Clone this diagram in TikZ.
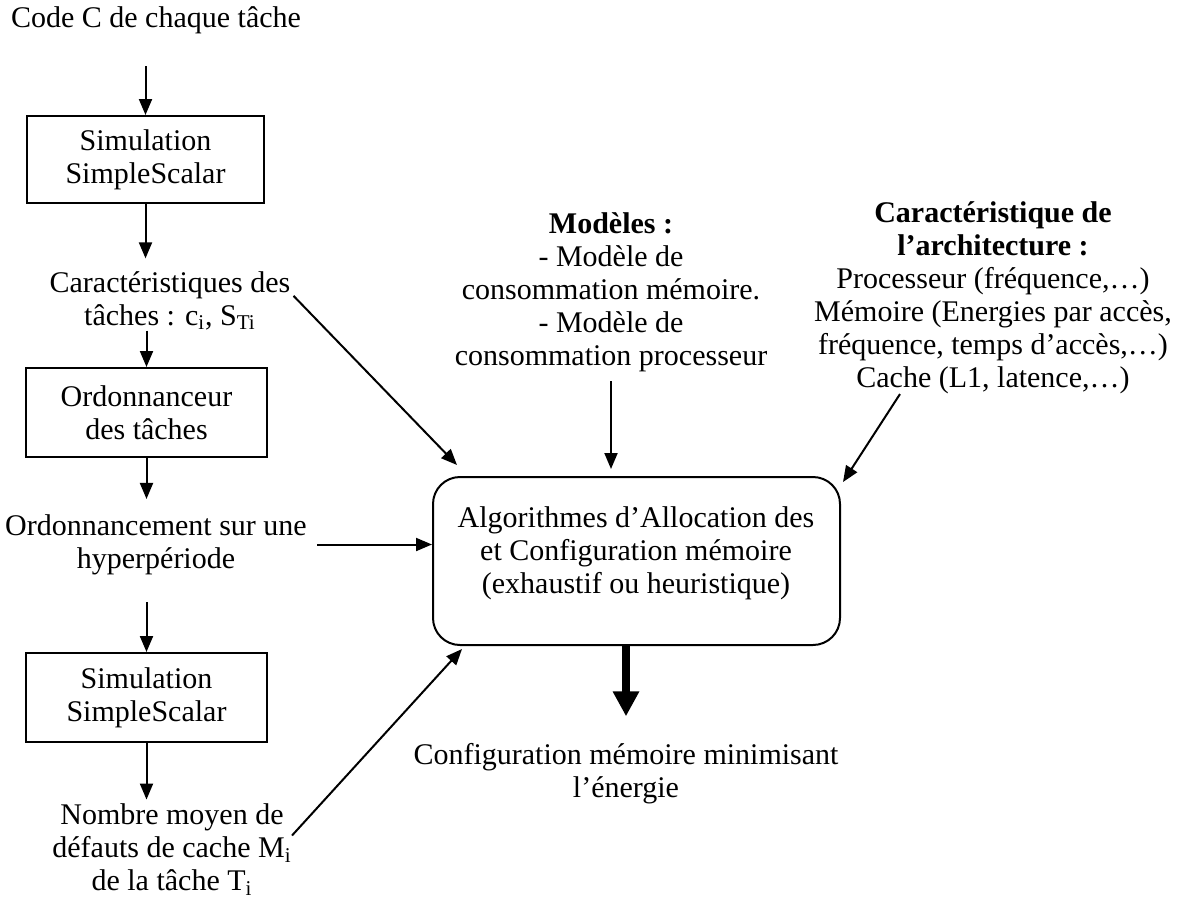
\documentclass[tikz,border=0pt]{standalone}
\usepackage{fontspec}
\setmainfont{Liberation Serif}
\usepackage{tikz}
\usetikzlibrary{shapes, arrows.meta, positioning}

\begin{document}
\begin{tikzpicture}[x=0.5pt, y=-0.5pt, >={Triangle[length=8pt,width=6.5pt]},
  every node/.style={font=\fontsize{15pt}{16.5pt}\selectfont, align=center},
  txt/.style={inner sep=0pt},
  stepbox/.style={rectangle, draw, line width=1pt, minimum width=120.5pt, minimum height=44.5pt},
  algobox/.style={rectangle, draw, line width=1pt, rounded corners=13.5pt, minimum width=203.5pt, minimum height=84pt},
  arr/.style={->, line width=1pt},
  bigarr/.style={-{Triangle[length=12.5pt,width=12.5pt]}, line width=4pt}]

\useasboundingbox (0,0) rectangle (1187,900);

% Left column
\node[txt] at (156,20) (code) {Code C de chaque tâche};
\node[stepbox, minimum width=118.5pt, minimum height=43.5pt] at (145.5,159.5) (sim1) {Simulation\\SimpleScalar};
\node[txt] at (170,301) (carac) {Caractéristiques des\\tâches : c\textsubscript{i}, S\textsubscript{Ti}};
\node[stepbox] at (146.5,412.5) (ordo) {Ordonnanceur\\des tâches};
\node[txt] at (156,544.5) (ordon) {Ordonnancement sur une\\hyperpériode};
\node[stepbox] at (146.5,697.5) (sim2) {Simulation\\SimpleScalar};
\node[txt] at (172,849.5) (nombre) {Nombre moyen de\\défauts de cache M\textsubscript{i}\\de la tâche T\textsubscript{i}};

% Models and architecture
\node[txt] at (611,292) (modeles) {\textbf{Modèles :}\\- Modèle de\\consommation mémoire.\\- Modèle de\\consommation processeur};
\node[txt] at (993,297.5) (archi) {\textbf{Caractéristique de}\\\textbf{l’architecture :}\\Processeur (fréquence,…)\\Mémoire (Energies par accès,\\fréquence, temps d’accès,…)\\Cache (L1, latence,…)};

% Allocation step and result
\node[algobox] at (636.5,561) (algo) {};
\node[txt] at (636,553.5) (algotxt) {Algorithmes d’Allocation des\\et Configuration mémoire\\(exhaustif ou heuristique)};
\node[txt] at (626,774) (config) {Configuration mémoire minimisant\\l’énergie};

% Connections: left column
\draw[arr, shorten <=16pt] (code.south -| sim1.north) -- (sim1.north);
\draw[arr, shorten >=6.5pt] (sim1.south) -- (sim1.south |- carac.north);
\draw[arr] (carac.south -| ordo.north) -- (ordo.north);
\draw[arr, shorten >=7.5pt] (ordo.south) -- (ordo.south |- ordon.north);
\draw[arr, shorten <=13.5pt] (ordon.south -| sim2.north) -- (sim2.north);
\draw[arr, shorten >=2pt] (sim2.south) -- (sim2.south |- nombre.north);

% Connections: into the allocation step
\draw[arr, shorten <=2pt] ([yshift=4pt]carac.east) -- ([xshift=12.5pt,yshift=5.5pt]algo.north west);
\draw[arr, shorten <=5pt] (ordon.east) -- (ordon.east -| algo.west);
\draw[arr] ([yshift=7pt]nombre.east) -- ([xshift=15pt,yshift=-1.5pt]algo.south west);
\draw[arr, shorten <=4.5pt, shorten >=3.5pt] (modeles.south) -- (modeles.south |- algo.north);
\draw[arr] ([xshift=-46.5pt]archi.south) -- ([xshift=1pt,yshift=-3pt]algo.north east);

% Result
\draw[bigarr, shorten >=13.5pt] (algo.south -| config.north) -- (config.north);

\end{tikzpicture}
\end{document}
